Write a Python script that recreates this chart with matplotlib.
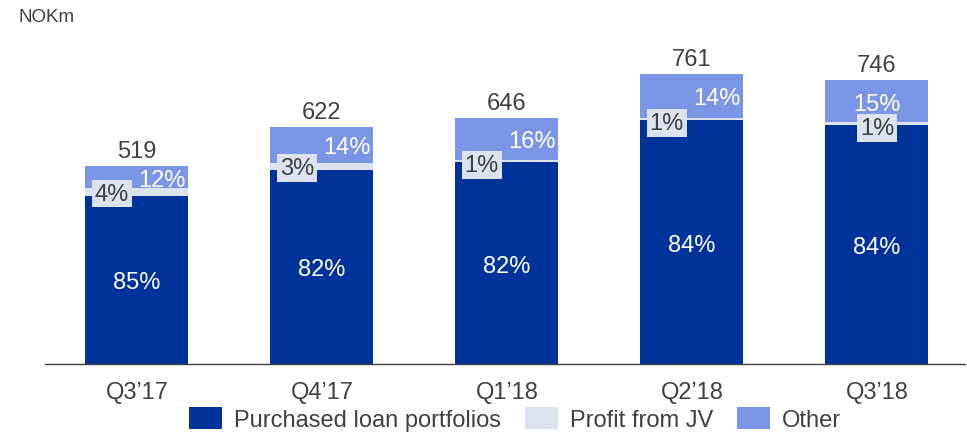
import matplotlib
matplotlib.use("Agg")
import matplotlib.pyplot as plt
from matplotlib.patches import Patch

plt.rcParams["font.family"] = ["Liberation Sans", "DejaVu Sans"]

categories = ["Q3\u201917", "Q4\u201917", "Q1\u201918", "Q2\u201918", "Q3\u201918"]
totals = [519, 622, 646, 761, 746]
pct_loans = [85, 82, 82, 84, 84]
pct_jv = [4, 3, 1, 1, 1]
pct_other = [12, 14, 16, 14, 15]
series_names = ["Purchased loan portfolios", "Profit from JV", "Other"]

c_dark = "#00339a"
c_light = "#dde3ee"
c_other = "#7b96e6"
c_text = "#404040"

fig = plt.figure(figsize=(9.67, 4.35), dpi=100)
ax = fig.add_axes([45/967, 70/435, 920/967, 365/435])

x = list(range(len(categories)))
w = 0.557
loans = [t * p / 100 for t, p in zip(totals, pct_loans)]
jv = [t * p / 100 for t, p in zip(totals, pct_jv)]
other = [t - l - j for t, l, j in zip(totals, loans, jv)]
base2 = [l + j for l, j in zip(loans, jv)]

ax.bar(x, loans, w, color=c_dark, linewidth=0)
ax.bar(x, jv, w, bottom=loans, color=c_light, linewidth=0)
ax.bar(x, other, w, bottom=base2, color=c_other, linewidth=0)

fs = 17
for i in x:
    ax.text(i, loans[i] / 2, f"{pct_loans[i]}%", ha="center", va="center_baseline",
            color="white", fontsize=fs)
    ax.text(i, totals[i] + 10, f"{totals[i]}", ha="center", va="bottom",
            color=c_text, fontsize=fs)
    if i == len(categories) - 1:
        jx, jha = i, "center"
        ox, oha = i, "center"
    else:
        jx, jha = i - w / 2 + 0.05, "left"
        ox, oha = i + w / 2 - 0.015, "right"
    ax.text(jx, base2[i] - 8, f"{pct_jv[i]}%", ha=jha, va="center_baseline",
            color=c_text, fontsize=fs,
            bbox=dict(boxstyle="square,pad=0.12", facecolor=c_light, edgecolor="none"))
    ax.text(ox, base2[i] + other[i] / 2, f"{pct_other[i]}%", ha=oha, va="center_baseline",
            color="white", fontsize=fs)

ax.set_xlim(-0.497, 4.476)
ax.set_ylim(0, 958)
ax.set_xticks(x)
ax.set_xticklabels(categories, fontsize=fs, color=c_text)
ax.tick_params(axis="x", length=0, pad=12)
ax.set_yticks([])
for s in ["top", "right", "left"]:
    ax.spines[s].set_visible(False)
ax.spines["bottom"].set_color("#404040")
ax.spines["bottom"].set_linewidth(1.0)

fig.text(18/967, 1 - 18/435, "NOKm", fontsize=13.5, color=c_text, va="center", ha="left")

handles = [Patch(facecolor=c, edgecolor="none") for c in (c_dark, c_light, c_other)]
fig.legend(handles, series_names, loc="center", bbox_to_anchor=(515/967, 1 - 420/435),
           ncol=3, frameon=False, fontsize=fs, handlelength=1.4, handleheight=1.1,
           handletextpad=0.5, columnspacing=1.0, labelcolor=c_text, borderpad=0,
           borderaxespad=0)

fig.savefig("out.png", dpi=100)
